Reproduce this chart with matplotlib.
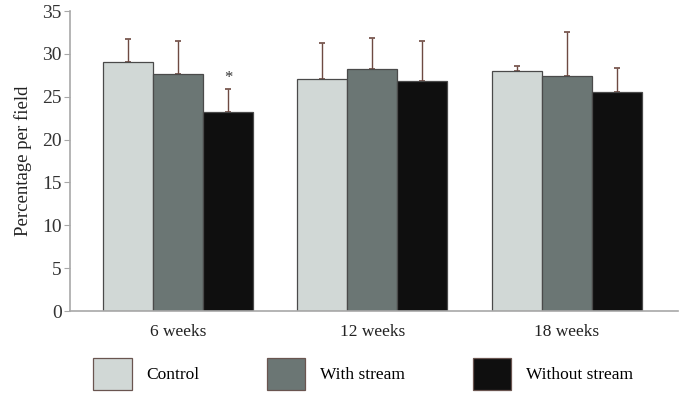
import numpy as np
import matplotlib
matplotlib.use("Agg")
import matplotlib.pyplot as plt

plt.rcParams['font.family'] = ['Liberation Serif', 'DejaVu Serif']

# 데이터
groups = ['6 weeks', '12 weeks', '18 weeks']
series = ['Control', 'With stream', 'Without stream']
control = [29.0, 27.1, 28.0]
with_stream = [27.7, 28.2, 27.45]
without_stream = [23.2, 26.8, 25.5]
control_err = [2.7, 4.2, 0.6]
with_stream_err = [3.8, 3.7, 5.05]
without_stream_err = [2.7, 4.7, 2.9]
y_ticks = [0, 5, 10, 15, 20, 25, 30, 35]

colors = ['#d1d8d6', '#6b7674', '#0f0f0f']
err_color = '#6e4a42'

fig = plt.figure(figsize=(6.9, 3.94), dpi=100)
ax = fig.add_axes([70 / 690, 83 / 394, 608 / 690, 300 / 394])

x = np.arange(len(groups))
width = 0.257
values = [control, with_stream, without_stream]
errors = [control_err, with_stream_err, without_stream_err]
handles = []
for i, (vals, errs) in enumerate(zip(values, errors)):
    pos = x + (i - 1) * width
    b = ax.bar(pos, vals, width, color=colors[i], edgecolor='#4a4a4a',
               linewidth=0.9, label=series[i], zorder=2)
    handles.append(b)
    ax.errorbar(pos, vals, yerr=[np.zeros(len(errs)), errs], fmt='none',
                ecolor=err_color, elinewidth=1.0, capsize=2.5, capthick=1.2,
                zorder=1)

# 유의성 표시
ax.text(x[0] + width, without_stream[0] + without_stream_err[0] + 0.3, '*',
        ha='center', va='bottom', fontsize=12, color='#333333')

ax.set_xlim(-0.555, 2.571)
ax.set_ylim(0, 35)
ax.set_yticks(y_ticks)
ax.set_xticks(x)
ax.set_xticklabels(groups, fontsize=12.5, color='#222222')
ax.tick_params(axis='x', length=0, pad=9)
ax.tick_params(axis='y', length=4, width=0.8, color='#a8a8a8',
               labelsize=14, labelcolor='#333333', pad=2)
for s in ['top', 'right']:
    ax.spines[s].set_visible(False)
for s in ['left', 'bottom']:
    ax.spines[s].set_color('#a8a8a8')
    ax.spines[s].set_linewidth(1.2)

ax.set_ylabel('Percentage per field', fontsize=13.5, color='#222222', labelpad=7)

leg = fig.legend(handles=handles, labels=series, loc='center',
                 bbox_to_anchor=(363 / 690, 1 - 374 / 394), ncol=3,
                 frameon=False, fontsize=12.5, handlelength=2.2,
                 handleheight=2.4, handletextpad=0.85, columnspacing=3.9)
for h in leg.legend_handles:
    h.set_edgecolor('#6a5550')

fig.savefig('out.png', dpi=100)
